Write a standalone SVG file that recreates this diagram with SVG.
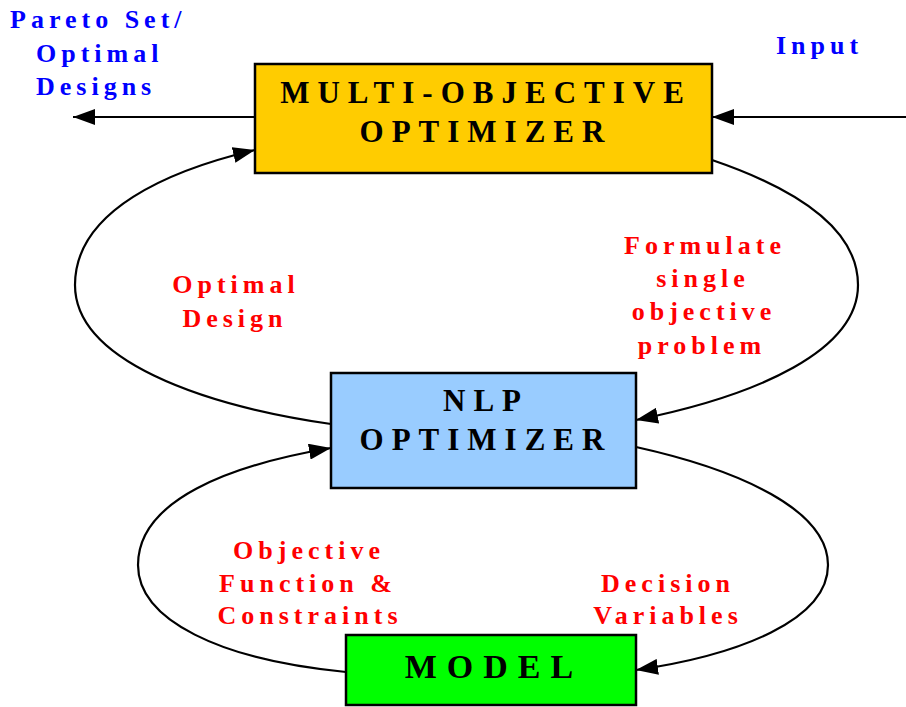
<svg xmlns="http://www.w3.org/2000/svg" width="906" height="707" viewBox="0 0 906 707">
<defs>
<style>
.box{stroke:#000;stroke-width:2.5}
.bt{font-family:"Liberation Serif","Times New Roman",serif;font-weight:bold;font-size:31px;letter-spacing:8px;fill:#000;text-anchor:middle}
.lb{font-family:"Liberation Serif","Times New Roman",serif;font-weight:bold;font-size:26px;letter-spacing:5px}
.red{fill:#FF0000;text-anchor:middle}
.blue{fill:#0000FF}
.c{fill:none;stroke:#000;stroke-width:2.2}
</style>
<marker id="ah" viewBox="0 0 22 16" refX="22" refY="8" markerWidth="22" markerHeight="16" markerUnits="userSpaceOnUse" orient="auto">
<path d="M0,0 L22,8 L0,16 Z" fill="#000"/>
</marker>
</defs>
<rect width="906" height="707" fill="#fff"/>
<g id="connectors">
<path class="c" d="M255,117 L73,117" marker-end="url(#ah)"/>
<path class="c" d="M906,117 L712,117" marker-end="url(#ah)"/>
<path class="c" d="M331,424 C200,405 75,360 75,285 C75,210 170,170 255,150" marker-end="url(#ah)"/>
<path class="c" d="M712,160 C800,190 858,230 858,285 C858,350 760,395 636,420" marker-end="url(#ah)"/>
<path class="c" d="M346,672 C220,660 138,620 138,565 C138,500 230,465 331,448" marker-end="url(#ah)"/>
<path class="c" d="M636,447 C740,470 828,510 828,565 C828,620 740,655 636,670" marker-end="url(#ah)"/>
</g>
<g id="multi">
<rect class="box" x="255" y="64" width="457" height="109" fill="#FFCC00"/>
<text class="bt" x="486" y="103">MULTI-OBJECTIVE</text>
<text class="bt" x="486" y="142">OPTIMIZER</text>
</g>
<g id="nlp">
<rect class="box" x="331" y="373" width="305" height="115" fill="#99CCFF"/>
<text class="bt" x="486" y="411">NLP</text>
<text class="bt" x="486" y="450">OPTIMIZER</text>
</g>
<g id="model">
<rect class="box" x="346" y="635" width="290" height="70" fill="#00FF00"/>
<text class="bt" x="494" y="678" style="font-size:34px;letter-spacing:10px">MODEL</text>
</g>
<g id="labels">
<text class="lb blue" x="10" y="28">Pareto Set/</text>
<text class="lb blue" x="36" y="62">Optimal</text>
<text class="lb blue" x="36" y="95">Designs</text>
<text class="lb blue" x="776" y="54">Input</text>
<text class="lb red" x="705" y="254">Formulate</text>
<text class="lb red" x="703" y="287">single</text>
<text class="lb red" x="704" y="320">objective</text>
<text class="lb red" x="702" y="354">problem</text>
<text class="lb red" x="236" y="293">Optimal</text>
<text class="lb red" x="235" y="327">Design</text>
<text class="lb red" x="309" y="559">Objective</text>
<text class="lb red" x="308" y="592">Function &amp;</text>
<text class="lb red" x="310" y="624">Constraints</text>
<text class="lb red" x="668" y="592">Decision</text>
<text class="lb red" x="668" y="624">Variables</text>
</g>
</svg>
